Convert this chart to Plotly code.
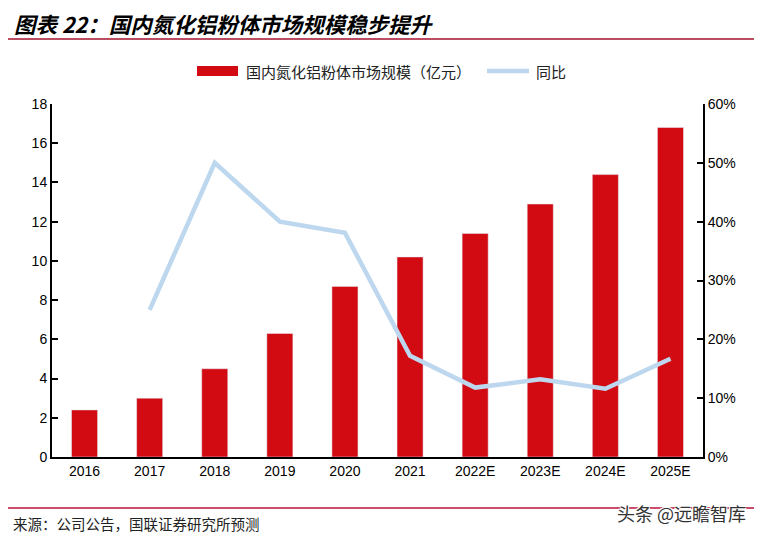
import plotly.graph_objects as go

categories = ["2016", "2017", "2018", "2019", "2020", "2021", "2022E", "2023E", "2024E", "2025E"]
market_size = [2.4, 3.0, 4.5, 6.3, 8.7, 10.2, 11.4, 12.9, 14.4, 16.8]
yoy_pct = [None, 25.0, 50.0, 40.0, 38.1, 17.2, 11.8, 13.2, 11.6, 16.7]
left_ticks = [0, 2, 4, 6, 8, 10, 12, 14, 16, 18]
right_ticks = [0, 10, 20, 30, 40, 50, 60]
right_tick_labels = ["0%", "10%", "20%", "30%", "40%", "50%", "60%"]
bar_name = "国内氮化铝粉体市场规模（亿元）"
line_name = "同比"

W, H = 762, 537
OFF = 8  # page body margin
L, R, T, B = 52, 59, 104, 80
pw, ph = W - L - R, H - T - B

def px(x):
    return (x - L) / pw

def py(y):
    return (H - B - y) / ph

BAR_COLOR = "#D20A11"
LINE_COLOR = "#BDD7EE"

fig = go.Figure()
fig.add_trace(go.Bar(
    x=categories, y=market_size, name=bar_name,
    marker=dict(color=BAR_COLOR), width=0.4,
))
fig.add_trace(go.Scatter(
    x=categories, y=yoy_pct, name=line_name, yaxis="y2", mode="lines",
    line=dict(color=LINE_COLOR, width=4.5),
))

tickfont = dict(family="Liberation Sans, Arial", size=14, color="#000")
cjk = "Noto Sans CJK SC"

fig.update_layout(
    width=W - OFF, height=H - OFF,
    margin=dict(l=L - OFF, r=R, t=T - OFF, b=B),
    plot_bgcolor="white", paper_bgcolor="white",
    showlegend=False,
    xaxis=dict(type="category", showline=True, linecolor="#000", linewidth=2,
               ticks="", tickfont=tickfont, showgrid=False),
    yaxis=dict(range=[0, 18], tickvals=left_ticks, showline=True, linecolor="#000",
               linewidth=2, ticks="inside", ticklen=6, tickwidth=2, tickcolor="#000",
               tickfont=tickfont, showgrid=False, zeroline=False),
    yaxis2=dict(range=[0, 60], tickvals=right_ticks, ticktext=right_tick_labels,
                overlaying="y", side="right", showline=True, linecolor="#000",
                linewidth=2, ticks="inside", ticklen=6, tickwidth=2, tickcolor="#000",
                tickfont=tickfont, showgrid=False, zeroline=False),
)

# manual legend
fig.add_shape(type="rect", xref="paper", yref="paper",
              x0=px(197), x1=px(238), y0=py(76), y1=py(66),
              fillcolor=BAR_COLOR, line=dict(width=0))
fig.add_annotation(text=bar_name, xref="paper", yref="paper", x=px(244), y=py(71),
                   xanchor="left", yanchor="middle", showarrow=False,
                   font=dict(family=cjk, size=15, color="#222"))
fig.add_shape(type="line", xref="paper", yref="paper",
              x0=px(487), x1=px(529), y0=py(71), y1=py(71),
              line=dict(color=LINE_COLOR, width=4.5))
fig.add_annotation(text=line_name, xref="paper", yref="paper", x=px(534), y=py(71),
                   xanchor="left", yanchor="middle", showarrow=False,
                   font=dict(family=cjk, size=15, color="#222"))

fig.add_annotation(text="<b><i>图表 22：国内氮化铝粉体市场规模稳步提升</i></b>",
                   xref="paper", yref="paper", x=px(12), y=py(23),
                   xanchor="left", yanchor="middle", showarrow=False,
                   font=dict(family=cjk, size=21.5, color="#000"))
fig.add_annotation(text="来源：公司公告，国联证券研究所预测",
                   xref="paper", yref="paper", x=px(11), y=py(523),
                   xanchor="left", yanchor="middle", showarrow=False,
                   font=dict(family=cjk, size=14.5, color="#222"))

fig.add_shape(type="line", xref="paper", yref="paper",
              x0=px(OFF), x1=px(W + OFF), y0=py(39), y1=py(39),
              line=dict(color="#A3122E", width=1.5))
fig.add_shape(type="line", xref="paper", yref="paper",
              x0=px(OFF), x1=px(W + OFF), y0=py(508), y1=py(508),
              line=dict(color="#B8123A", width=1.5))

fig.add_annotation(text="头条 @远瞻智库",
                   xref="paper", yref="paper", x=px(748), y=py(513),
                   xanchor="right", yanchor="middle", showarrow=False,
                   font=dict(family=cjk, size=18, color="#333",
                             shadow="1px 1px 0 white, -1px -1px 0 white, 1px -1px 0 white, -1px 1px 0 white"))

fig.write_html("out.html")
